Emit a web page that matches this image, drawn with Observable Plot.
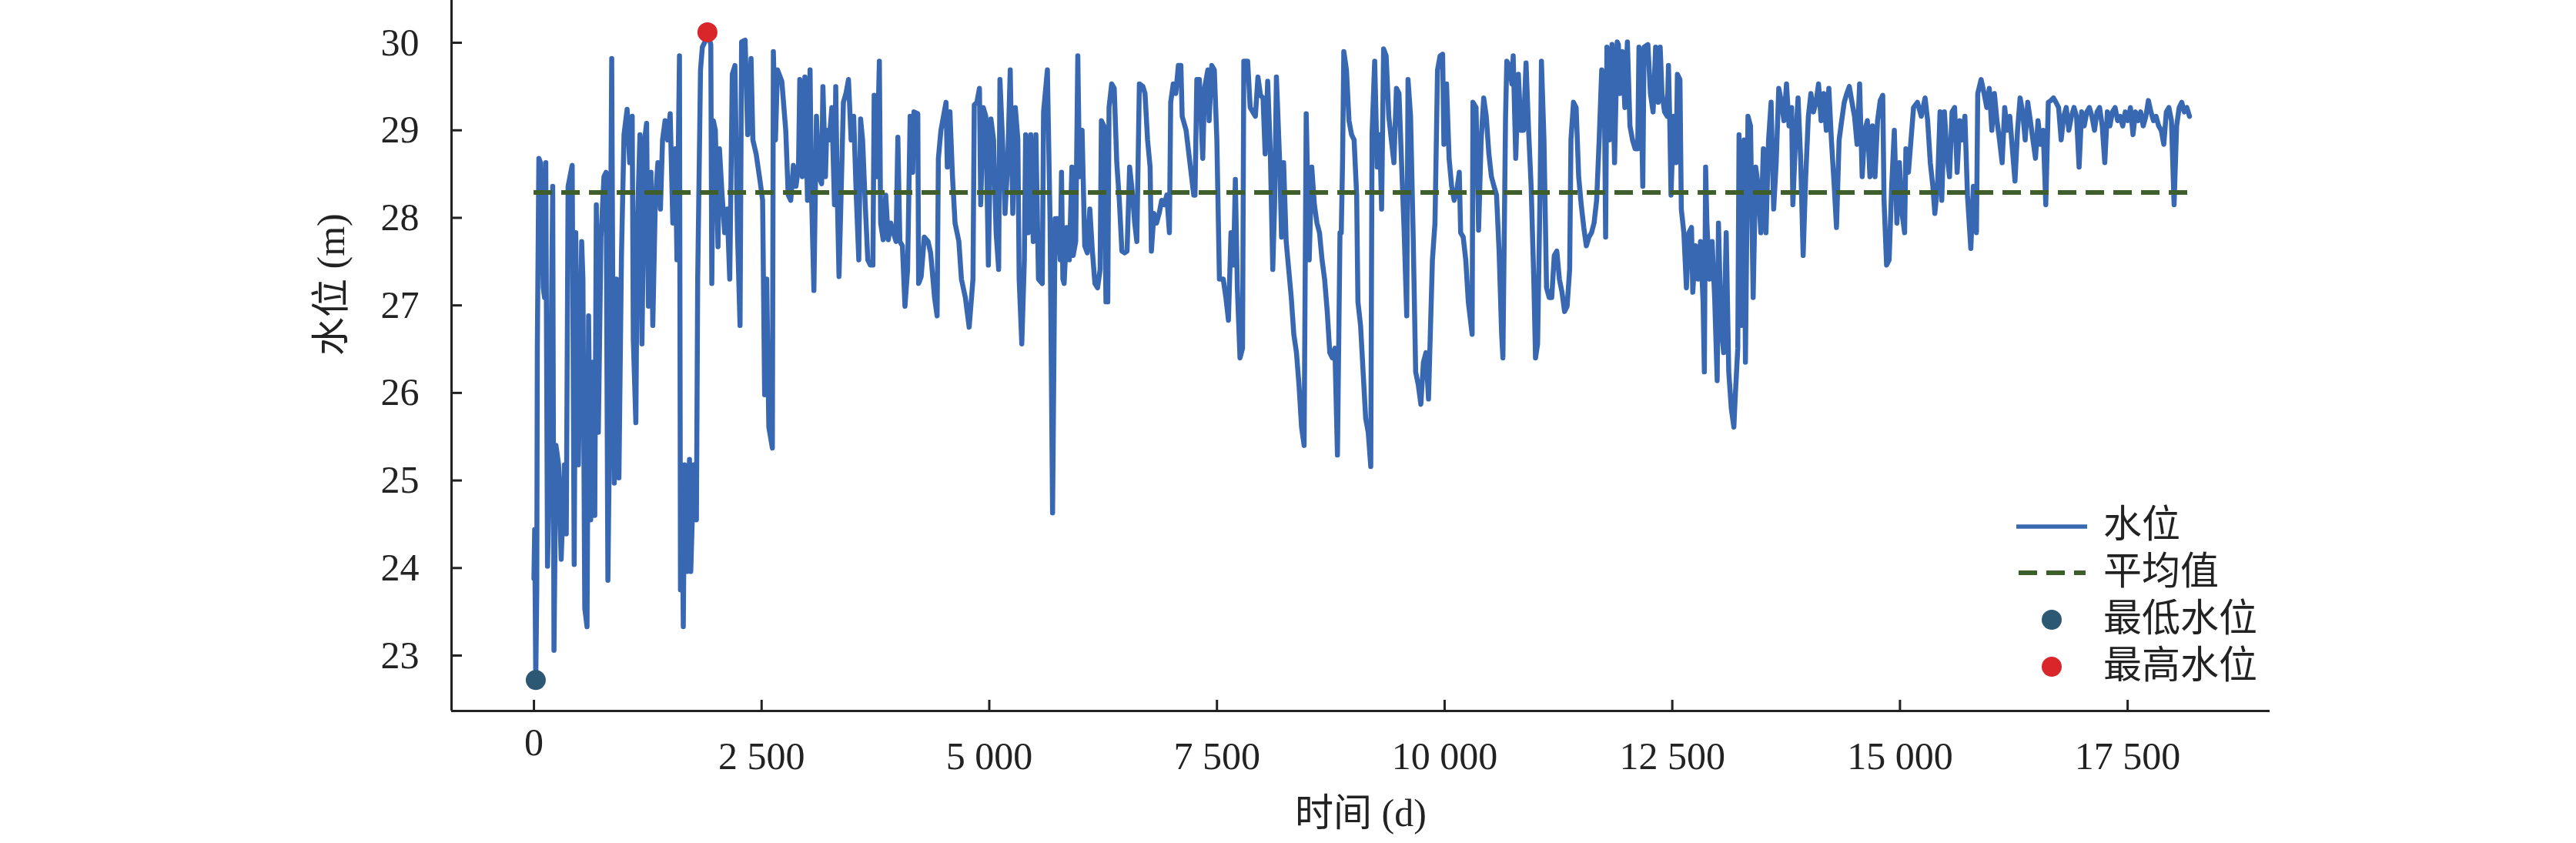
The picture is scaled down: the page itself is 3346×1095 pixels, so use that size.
<!DOCTYPE html>
<html><head><meta charset="utf-8">
<script src="https://cdn.jsdelivr.net/npm/d3@7"></script>
<script src="https://cdn.jsdelivr.net/npm/@observablehq/plot@0.6"></script>
<style>
html,body{margin:0;padding:0;background:#fff;}
#wrap{position:relative;width:3346px;height:1095px;overflow:hidden;background:#fff;}
#wrap svg{position:absolute;left:0;top:0;}
</style></head><body><div id="wrap"></div>
<script>
// ---- data: day index and water level (m) ----
const daysA = [0, 8, 20, 31, 37, 54, 73, 102, 116, 130,
149, 178, 206, 220, 242, 271, 299, 335, 355, 375,
420, 442, 459, 488, 524, 538, 558, 583, 600, 623,
643, 668, 685, 707, 736, 769, 792, 812, 826, 854,
865, 882, 905, 933, 961, 989, 1023, 1051, 1079, 1091,
1119, 1136, 1164, 1186, 1215, 1237, 1257, 1285, 1305, 1333,
1361, 1389, 1412, 1440, 1468, 1496, 1525, 1553, 1570, 1598,
1609, 1623, 1640, 1654, 1680, 1708, 1722, 1756, 1784, 1798,
1812, 1829, 1849, 1877, 1905, 1942, 1953, 1970, 1992, 2021,
2037, 2066, 2094, 2122, 2150, 2178, 2207, 2235, 2263, 2280,
2319, 2347, 2384, 2404, 2440, 2483, 2511, 2533, 2556, 2579,
2618, 2629, 2652, 2674, 2722, 2765];
const levelsA = [23.88, 24.44, 22.72, 23.75, 26.51, 28.68, 28.63, 27.20, 27.09, 28.63,
24.02, 25.40, 28.36, 23.06, 25.40, 25.18, 24.10, 25.18, 24.39, 28.36,
28.60, 24.04, 27.83, 25.18, 27.73, 27.30, 23.54, 23.33, 26.88, 24.55,
26.35, 24.60, 28.15, 25.55, 27.78, 28.47, 28.52, 23.86, 25.18, 29.82,
27.30, 24.97, 27.30, 25.03, 27.57, 28.95, 29.24, 28.63, 29.16, 26.61,
25.66, 27.94, 28.95, 26.56, 28.89, 29.08, 26.99, 28.52, 26.77, 28.20,
28.63, 28.10, 28.89, 29.11, 28.89, 29.19, 27.94, 28.79, 27.52, 29.85,
23.75, 25.18, 23.33, 25.18, 23.96, 25.24, 23.96, 25.18, 24.55, 27.30,
28.36, 29.69, 29.95, 30.01, 30.12, 29.98, 27.25, 29.11, 29.00, 27.67,
28.79, 28.26, 27.83, 28.10, 27.30, 29.64, 29.74, 27.83, 26.77, 30.01,
30.03, 28.95, 29.82, 28.89, 28.73, 28.42, 28.20, 25.98, 27.30, 25.61,
25.37, 29.90, 28.89, 29.69, 29.56, 29.00];

const daysB = [2792, 2820, 2849, 2877, 2905, 2919, 2947, 2975, 3004, 3032,
3046, 3074, 3102, 3130, 3159, 3173, 3201, 3215, 3243, 3271,
3300, 3314, 3333, 3350, 3370, 3398, 3426, 3454, 3483, 3511,
3539, 3567, 3587, 3609, 3638, 3666, 3694, 3722, 3736, 3764,
3793, 3807, 3835, 3863, 3891, 3919, 3948, 3976, 3996, 4018,
4046, 4074, 4103, 4131, 4159, 4173, 4215, 4224, 4252, 4286,
4328, 4356, 4399, 4427, 4441, 4469, 4497, 4525, 4539, 4568,
4596, 4624, 4666, 4694, 4737, 4779, 4821, 4835, 4864, 4892,
4906, 4934, 4962, 4990, 5018, 5047, 5075, 5103, 5117, 5145,
5173, 5202, 5230, 5258, 5286, 5314, 5328, 5357, 5385, 5399,
5427, 5455, 5483, 5512, 5540, 5582, 5596, 5638, 5667, 5695,
5723, 5751, 5779, 5793, 5808];
const levelsB = [28.26, 28.20, 28.60, 28.36, 28.58, 29.58, 28.47, 29.61, 28.20, 29.69,
28.36, 27.17, 29.16, 28.47, 28.39, 29.50, 28.47, 29.00, 28.89, 29.26,
28.15, 29.50, 28.15, 27.33, 28.15, 29.32, 29.42, 29.58, 28.89, 29.16,
28.26, 27.52, 29.13, 28.89, 28.15, 27.52, 27.46, 27.46, 29.40, 28.47,
29.79, 27.94, 27.75, 28.26, 27.75, 27.94, 27.83, 27.73, 28.92, 27.73,
27.68, 26.99, 27.41, 29.16, 28.52, 29.21, 29.19, 27.25, 27.33, 27.78,
27.73, 27.60, 27.09, 26.88, 28.68, 29.00, 29.16, 29.32, 28.58, 29.21,
28.47, 27.94, 27.73, 27.30, 27.09, 26.75, 27.30, 29.29, 29.32, 29.48,
28.15, 29.26, 29.16, 27.46, 29.13, 28.89, 27.83, 27.41, 29.58, 28.89,
28.05, 28.63, 29.69, 28.05, 29.26, 28.89, 27.30, 26.56, 27.52, 28.95,
27.83, 28.95, 27.73, 28.95, 27.30, 27.25, 29.21, 29.69, 27.99, 24.63,
27.99, 27.99, 27.52, 28.52, 27.30];

const daysC = [5822, 5850, 5879, 5907, 5921, 5949, 5972, 5991, 6019, 6048,
6076, 6104, 6132, 6160, 6189, 6217, 6231, 6259, 6281, 6301,
6315, 6344, 6372, 6400, 6428, 6456, 6484, 6513, 6541, 6569,
6597, 6620, 6648, 6687, 6710, 6738, 6766, 6780, 6808, 6837,
6865, 6893, 6921, 6949, 6978, 6992, 7020, 7048, 7076, 7104,
7118, 7161, 7203, 7245, 7259, 7279, 7307, 7344, 7364, 7400,
7414, 7443, 7471, 7499, 7527, 7569, 7598, 7626, 7654, 7682,
7702, 7724, 7753, 7781, 7795, 7837, 7865, 7893, 7922, 7950,
7978, 8006, 8029, 8057, 8085, 8113, 8133, 8153, 8189, 8209,
8232, 8260, 8288, 8316, 8344, 8373, 8401, 8429, 8457, 8480,
8513, 8541, 8570, 8598, 8626, 8654, 8682, 8711, 8739, 8767,
8795, 8823, 8851];
const levelsC = [27.25, 27.89, 27.52, 28.58, 27.57, 27.73, 29.85, 28.47, 29.00, 27.68,
27.60, 28.10, 27.62, 27.25, 27.20, 27.41, 29.11, 29.05, 27.04, 27.04,
29.26, 29.53, 29.48, 28.63, 28.20, 27.62, 27.60, 27.62, 28.58, 28.31,
27.94, 27.73, 29.53, 29.50, 29.42, 28.89, 28.58, 27.62, 28.05, 27.94,
28.05, 28.20, 28.15, 28.26, 27.83, 29.32, 29.53, 29.42, 29.74, 29.74,
29.16, 29.00, 28.63, 28.26, 28.26, 29.58, 29.58, 28.68, 29.48, 29.69,
29.11, 29.74, 29.69, 28.89, 27.30, 27.30, 27.09, 26.83, 27.83, 27.46,
28.44, 27.20, 26.40, 26.51, 29.79, 29.79, 29.26, 29.21, 29.16, 29.61,
29.40, 29.37, 28.73, 29.56, 28.79, 27.41, 28.15, 29.61, 28.63, 27.78,
28.63, 27.73, 27.41, 27.09, 26.67, 26.46, 26.09, 25.61, 25.40, 29.19,
27.52, 28.58, 28.15, 27.94, 27.83, 27.52, 27.30, 26.93, 26.46, 26.40,
26.51, 25.29, 27.83];

const daysD = [8865, 8879, 8893, 8922, 8950, 8978, 9006, 9034, 9048, 9077,
9105, 9133, 9161, 9189, 9203, 9232, 9260, 9288, 9308, 9330,
9358, 9387, 9415, 9443, 9471, 9499, 9527, 9556, 9584, 9598,
9626, 9654, 9682, 9711, 9739, 9767, 9795, 9823, 9837, 9866,
9894, 9922, 9950, 9978, 9992, 10021, 10049, 10077, 10105, 10133,
10161, 10176, 10204, 10232, 10260, 10302, 10311, 10345, 10373, 10401,
10429, 10457, 10486, 10514, 10542, 10570, 10598, 10626, 10640, 10669,
10683, 10711, 10739, 10753, 10781, 10810, 10838, 10866, 10894, 10922,
10950, 10979, 10998, 11021, 11049, 11063, 11091, 11119, 11148, 11176,
11204, 11232, 11260, 11289, 11317, 11345, 11373, 11387, 11415, 11444,
11472, 11500, 11528, 11556, 11585, 11613, 11641, 11669, 11697, 11725,
11754, 11768, 11782, 11810, 11838, 11866, 11895];
const levelsD = [27.83, 28.63, 29.90, 29.69, 29.11, 28.95, 28.89, 28.26, 27.04, 26.77,
26.24, 25.71, 25.55, 25.16, 28.95, 29.79, 28.58, 28.95, 28.10, 29.93,
29.85, 29.16, 28.89, 28.63, 29.48, 29.42, 28.63, 27.83, 26.88, 29.58,
29.16, 27.83, 26.24, 26.09, 25.87, 26.35, 26.46, 25.93, 26.46, 27.52,
27.94, 29.69, 29.85, 29.87, 28.84, 29.53, 28.68, 28.36, 28.20, 28.31,
28.52, 27.83, 27.78, 27.52, 27.04, 26.67, 29.32, 29.26, 27.86, 28.89,
29.37, 29.16, 28.73, 28.47, 28.36, 28.26, 27.62, 26.67, 26.40, 29.16,
29.79, 29.74, 29.53, 29.85, 28.68, 29.64, 29.00, 29.00, 29.77, 29.00,
28.36, 27.30, 26.40, 26.56, 28.36, 29.79, 28.89, 27.20, 27.09, 27.09,
27.57, 27.62, 27.30, 27.15, 26.93, 26.99, 27.41, 28.89, 29.32, 29.26,
28.47, 28.15, 27.89, 27.68, 27.78, 27.83, 27.94, 28.20, 28.89, 29.69,
29.42, 27.78, 29.95, 28.89, 29.98, 28.63, 30.01];

const daysE = [11908, 11922, 11950, 11979, 12007, 12021, 12035, 12063, 12091, 12120,
12134, 12162, 12176, 12190, 12232, 12260, 12289, 12317, 12345, 12367,
12387, 12415, 12444, 12458, 12472, 12486, 12514, 12542, 12556, 12584,
12599, 12627, 12655, 12683, 12711, 12725, 12754, 12782, 12810, 12838,
12852, 12866, 12880, 12909, 12937, 12965, 12993, 13007, 13035, 13064,
13092, 13120, 13148, 13176, 13190, 13219, 13233, 13261, 13289, 13303,
13331, 13359, 13388, 13416, 13444, 13472, 13500, 13529, 13557, 13585,
13613, 13641, 13669, 13698, 13726, 13754, 13782, 13810, 13824, 13853,
13881, 13909, 13937, 13965, 13994, 14022, 14050, 14078, 14106, 14134,
14163, 14191, 14219, 14247, 14275, 14303, 14332, 14360, 14388, 14416,
14444, 14473, 14501, 14529, 14557, 14585, 14613, 14642, 14670, 14698,
14726, 14754, 14783, 14811, 14825, 14853, 14881, 14909, 14938];
const levelsE = [29.98, 29.42, 29.90, 29.26, 30.01, 29.53, 29.05, 28.89, 28.79, 28.79,
29.95, 29.16, 28.36, 29.95, 29.98, 29.42, 29.21, 29.95, 29.32, 29.95,
29.42, 29.21, 29.16, 29.74, 29.11, 28.26, 29.16, 28.63, 29.64, 29.58,
28.10, 27.83, 27.20, 27.83, 27.89, 27.15, 27.68, 27.30, 27.73, 27.04,
26.24, 28.58, 27.94, 27.30, 27.73, 27.09, 26.14, 27.94, 26.77, 26.46,
27.83, 26.24, 25.82, 25.61, 25.93, 26.51, 28.95, 26.77, 28.89, 26.35,
29.16, 29.05, 27.09, 28.58, 28.36, 27.83, 28.79, 27.83, 28.89, 29.32,
28.10, 28.63, 29.48, 29.32, 29.11, 29.53, 29.05, 29.26, 28.15, 28.89,
29.37, 28.68, 27.57, 28.47, 29.16, 29.42, 29.21, 29.32, 29.53, 29.11,
29.42, 29.00, 29.48, 28.89, 28.42, 27.89, 28.89, 29.11, 29.32, 29.42,
29.50, 29.32, 29.16, 28.84, 29.53, 28.47, 29.00, 29.11, 28.47, 29.05,
28.47, 29.11, 29.34, 29.40, 28.20, 27.46, 27.52, 28.36, 29.00];

const daysF = [14966, 14994, 15023, 15051, 15065, 15093, 15121, 15149, 15192, 15234,
15276, 15304, 15333, 15361, 15383, 15412, 15440, 15459, 15488, 15516,
15544, 15572, 15600, 15628, 15657, 15685, 15713, 15741, 15778, 15806,
15840, 15854, 15891, 15924, 15953, 15981, 16009, 16037, 16065, 16093,
16122, 16150, 16178, 16206, 16234, 16263, 16291, 16319, 16347, 16375,
16403, 16432, 16460, 16488, 16516, 16544, 16573, 16601, 16629, 16657,
16685, 16713, 16742, 16770, 16798, 16826, 16854, 16883, 16911, 16939,
16967, 16995, 17023, 17052, 17080, 17108, 17136, 17164, 17192, 17221,
17249, 17277, 17305, 17333, 17362, 17390, 17418, 17446, 17474, 17502,
17531, 17559, 17587, 17615, 17643, 17671, 17700, 17728, 17756, 17784,
17812, 17841, 17869, 17897, 17925, 17953, 17981, 18010, 18038, 18066,
18094, 18122, 18150, 18179];
const levelsF = [27.94, 28.63, 28.05, 27.83, 28.79, 28.52, 28.89, 29.26, 29.32, 29.16,
29.37, 29.11, 28.63, 28.36, 28.05, 28.36, 29.21, 28.20, 29.21, 28.73,
28.47, 29.21, 29.26, 28.52, 29.11, 28.89, 29.16, 28.26, 27.65, 28.36,
27.83, 29.42, 29.58, 29.42, 29.26, 29.48, 29.00, 29.42, 29.11, 28.89,
28.63, 29.26, 29.00, 29.16, 28.79, 28.42, 29.00, 29.37, 29.21, 28.89,
29.32, 29.11, 28.89, 28.68, 29.11, 28.84, 29.00, 28.15, 29.32, 29.34,
29.37, 29.32, 29.26, 28.89, 29.16, 29.26, 29.00, 29.16, 29.26, 29.16,
28.58, 29.21, 29.05, 29.21, 29.26, 29.16, 29.00, 29.21, 29.26, 29.05,
28.63, 29.21, 29.05, 29.21, 29.26, 29.11, 29.16, 29.05, 29.21, 29.11,
29.26, 28.95, 29.21, 29.11, 29.21, 29.05, 29.16, 29.34, 29.21, 29.11,
29.16, 29.05, 29.00, 28.84, 29.21, 29.26, 29.11, 28.15, 29.05, 29.26,
29.32, 29.21, 29.26, 29.16];

const meanLevel = 28.29;
const xTicks = [0, 2500, 5000, 7500, 10000, 12500, 15000, 17500];
const yTicks = [23, 24, 25, 26, 27, 28, 29, 30];
const legendLabels = ["水位", "平均值", "最低水位", "最高水位"];
const xLabel = "时间 (d)";
const yLabel = "水位 (m)";

// ---- build ----
const days = [...daysA, ...daysB, ...daysC, ...daysD, ...daysE, ...daysF];
const levels = [...levelsA, ...levelsB, ...levelsC, ...levelsD, ...levelsE, ...levelsF];
const series = days.map((d, i) => ({day: d, level: levels[i]}));
const minPt = d3.least(series, d => d.level);
const maxPt = d3.greatest(series, d => d.level);

const colors = {line: "#3968b2", mean: "#3e5e2b", min: "#2d5874", max: "#d8262b", ink: "#222"};
const W = 3346, H = 1095, mL = 586, mR = 398, mT = 0, mB = 172;
const plotW = W - mL - mR, plotH = H - mT - mB;
const xDomain = [-905, 19063], yDomain = [22.367, 30.484];
const fmtX = d => d3.format(",")(d).replace(/,/g, " ");
const fmtY = d => d3.format("d")(d);
const serif = "'Liberation Serif','Times New Roman','Noto Sans CJK SC',serif";

const chart = Plot.plot({
  width: W, height: H,
  marginLeft: mL, marginRight: mR, marginTop: mT, marginBottom: mB,
  style: {fontFamily: serif, fontSize: "50px", color: colors.ink, background: "#fff", overflow: "visible"},
  x: {domain: xDomain},
  y: {domain: yDomain},
  marks: [
    Plot.axisY(yTicks, {anchor: "left", tickSize: 0, tickPadding: 42, tickFormat: fmtY, label: null, fontSize: 50}),
    Plot.axisX(xTicks.filter(d => d !== 0), {anchor: "bottom", tickSize: 0, tickPadding: 40, tickFormat: fmtX, label: null, fontSize: 50}),
    Plot.axisX(xTicks.filter(d => d === 0), {anchor: "bottom", tickSize: 0, tickPadding: 22, tickFormat: fmtX, label: null, fontSize: 50}),
    Plot.tickY(yTicks, {y: d => d, insetRight: plotW - 14, stroke: colors.ink, strokeWidth: 3}),
    Plot.tickX(xTicks, {x: d => d, insetTop: plotH - 14, stroke: colors.ink, strokeWidth: 3}),
    Plot.ruleX([xDomain[0]], {stroke: colors.ink, strokeWidth: 3}),
    Plot.ruleY([yDomain[0]], {stroke: colors.ink, strokeWidth: 3}),
    Plot.line(series, {x: "day", y: "level", stroke: colors.line, strokeWidth: 6.5, strokeLinejoin: "round"}),
    Plot.ruleY([meanLevel], {x1: days[0], x2: days[days.length - 1], stroke: colors.mean, strokeWidth: 6, strokeDasharray: "24,12"}),
    Plot.dot([minPt], {x: "day", y: "level", r: 13, fill: colors.min}),
    Plot.dot([maxPt], {x: "day", y: "level", r: 13, fill: colors.max}),
    Plot.text([xLabel], {frameAnchor: "bottom", dy: 133, fontSize: 50, lineAnchor: "middle", fill: colors.ink}),
    Plot.text([yLabel], {frameAnchor: "left", dx: -156, rotate: -90, fontSize: 50, lineAnchor: "middle", fill: colors.ink})
  ]
});
const wrap = document.getElementById("wrap");
wrap.appendChild(chart);

// ---- legend overlay ----
const leg = d3.create("svg").attr("width", W).attr("height", H).style("pointer-events", "none");
const rowY = [681, 742, 803, 864];
const g = leg.append("g");
g.append("line").attr("x1", 2619).attr("x2", 2711).attr("y1", rowY[0] + 3).attr("y2", rowY[0] + 3)
  .attr("stroke", colors.line).attr("stroke-width", 5.5);
g.append("line").attr("x1", 2622).attr("x2", 2709).attr("y1", rowY[1] + 2).attr("y2", rowY[1] + 2)
  .attr("stroke", colors.mean).attr("stroke-width", 6).attr("stroke-dasharray", "24,12");
g.append("circle").attr("cx", 2665).attr("cy", rowY[2] + 2).attr("r", 13).attr("fill", colors.min);
g.append("circle").attr("cx", 2665).attr("cy", rowY[3] + 2).attr("r", 13).attr("fill", colors.max);
legendLabels.forEach((t, i) => {
  g.append("text").attr("x", 2732).attr("y", rowY[i]).attr("dominant-baseline", "central")
    .attr("font-family", serif).attr("font-size", 50).attr("fill", colors.ink).text(t);
});
wrap.appendChild(leg.node());
</script>
</body></html>
